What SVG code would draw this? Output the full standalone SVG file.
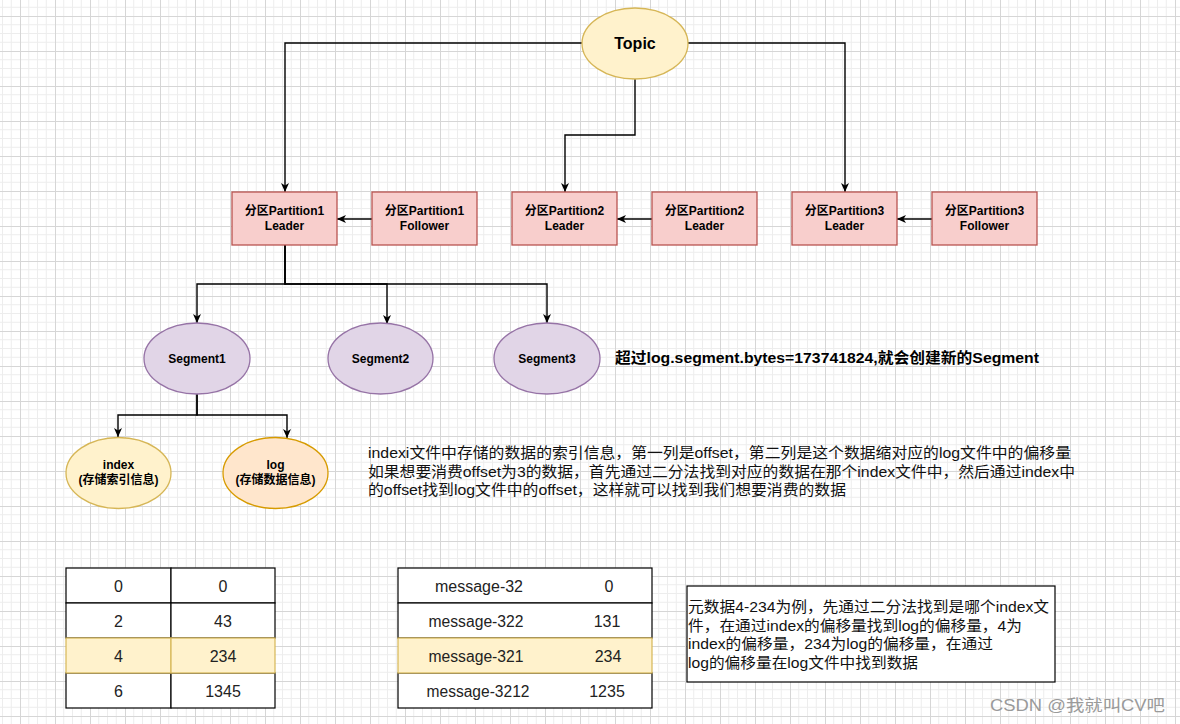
<svg xmlns="http://www.w3.org/2000/svg" width="1180" height="724" viewBox="0 0 1180 724">
<style>
text{font-family:"Liberation Sans","Noto Sans CJK SC",sans-serif;fill:#000}
.lbl{font-size:12px;font-weight:bold;text-anchor:middle}
.part{fill:#f8cecc;stroke:#b85450;stroke-width:1.3}
.seg{fill:#e1d5e7;stroke:#9673a6;stroke-width:1.3}
.yel{fill:#fff2cc;stroke:#d6b656;stroke-width:1.3}
.org{fill:#ffe6cc;stroke:#d79b00;stroke-width:1.3}
.edge{fill:none;stroke:#000;stroke-width:1.4;marker-end:url(#arr)}
.cell{fill:#fff;stroke:#000;stroke-width:1.2}
.hcell{fill:#fff2cc;stroke:#d6b656;stroke-width:1.2}
.num{font-size:16px;text-anchor:middle;fill:#222}
.para{font-size:15px;fill:#111}
</style>
<defs>
<pattern id="grid" patternUnits="userSpaceOnUse" x="20" y="16" width="35" height="35">
<path d="M8.75,0V35M17.5,0V35M26.25,0V35M0,8.75H35M0,17.5H35M0,26.25H35" stroke="#ededed" stroke-width="1" fill="none"/>
<path d="M0.5,0V35M0,0.5H35" stroke="#d6d6d6" stroke-width="1" fill="none"/>
</pattern>
<marker id="arr" markerUnits="userSpaceOnUse" markerWidth="10" markerHeight="10" refX="9" refY="4" orient="auto">
<path d="M0,0 L9,4 L0,8 L2.5,4 z" fill="#000"/>
</marker>
</defs>
<rect width="1180" height="724" fill="#fff"/>
<rect width="1180" height="724" fill="url(#grid)"/>

<g id="connectors">
<path class="edge" d="M582,43 H285 V192"/>
<path class="edge" d="M635,79 V135 H565 V192"/>
<path class="edge" d="M688,43 H845 V192"/>
<path class="edge" d="M372,219 H337"/>
<path class="edge" d="M652,219 H617"/>
<path class="edge" d="M932,219 H897"/>
<path class="edge" d="M285,245 V284 H197 V323"/>
<path class="edge" d="M285,245 V284 H387 V324"/>
<path class="edge" d="M285,245 V284 H547 V323"/>
<path class="edge" d="M197,394 V415 H118 V437"/>
<path class="edge" d="M197,394 V415 H287 V438"/>
</g>

<g id="topic">
<ellipse class="yel" cx="635" cy="43.5" rx="53" ry="35.5"/>
<text class="lbl" x="635" y="48.5" style="font-size:16px">Topic</text>
</g>

<g id="p1-leader">
<rect class="part" x="232" y="192" width="105" height="53"/>
<text class="lbl" x="284.5" y="215">分区Partition1</text>
<text class="lbl" x="284.5" y="229.5">Leader</text>
</g>
<g id="p1-follower">
<rect class="part" x="372" y="192" width="105" height="53"/>
<text class="lbl" x="424.5" y="215">分区Partition1</text>
<text class="lbl" x="424.5" y="229.5">Follower</text>
</g>
<g id="p2-leader">
<rect class="part" x="512" y="192" width="105" height="53"/>
<text class="lbl" x="564.5" y="215">分区Partition2</text>
<text class="lbl" x="564.5" y="229.5">Leader</text>
</g>
<g id="p2-leader-b">
<rect class="part" x="652" y="192" width="105" height="53"/>
<text class="lbl" x="704.5" y="215">分区Partition2</text>
<text class="lbl" x="704.5" y="229.5">Leader</text>
</g>
<g id="p3-leader">
<rect class="part" x="792" y="192" width="105" height="53"/>
<text class="lbl" x="844.5" y="215">分区Partition3</text>
<text class="lbl" x="844.5" y="229.5">Leader</text>
</g>
<g id="p3-follower">
<rect class="part" x="932" y="192" width="105" height="53"/>
<text class="lbl" x="984.5" y="215">分区Partition3</text>
<text class="lbl" x="984.5" y="229.5">Follower</text>
</g>

<g id="segment1">
<ellipse class="seg" cx="197" cy="358.5" rx="53" ry="35.5"/>
<text class="lbl" x="197" y="362.5">Segment1</text>
</g>
<g id="segment2">
<ellipse class="seg" cx="380.5" cy="358.5" rx="52.5" ry="35.5"/>
<text class="lbl" x="380.5" y="362.5">Segment2</text>
</g>
<g id="segment3">
<ellipse class="seg" cx="547" cy="358.5" rx="53" ry="35.5"/>
<text class="lbl" x="547" y="362.5">Segment3</text>
</g>

<g id="note-segment">
<text x="615" y="363" style="font-size:15px;font-weight:bold" textLength="424" lengthAdjust="spacingAndGlyphs">超过log.segment.bytes=173741824,就会创建新的Segment</text>
</g>

<g id="index">
<ellipse class="yel" cx="118.5" cy="473" rx="52.5" ry="35.5"/>
<text class="lbl" x="118.5" y="469">index</text>
<text class="lbl" x="118.5" y="484">(存储索引信息)</text>
</g>
<g id="log">
<ellipse class="org" cx="275.5" cy="473" rx="52.5" ry="35.5"/>
<text class="lbl" x="275.5" y="469">log</text>
<text class="lbl" x="275.5" y="484">(存储数据信息)</text>
</g>

<g id="note-index">
<text class="para" x="368" y="458" textLength="703" lengthAdjust="spacingAndGlyphs">indexi文件中存储的数据的索引信息，第一列是offset，第二列是这个数据缩对应的log文件中的偏移量</text>
<text class="para" x="368" y="476.5" textLength="707" lengthAdjust="spacingAndGlyphs">如果想要消费offset为3的数据，首先通过二分法找到对应的数据在那个index文件中，然后通过index中</text>
<text class="para" x="368" y="495" textLength="478" lengthAdjust="spacingAndGlyphs">的offset找到log文件中的offset，这样就可以找到我们想要消费的数据</text>
</g>

<g id="index-table">
<rect class="cell" x="66" y="568" width="105" height="35"/>
<rect class="cell" x="171" y="568" width="104" height="35"/>
<rect class="cell" x="66" y="603" width="105" height="35"/>
<rect class="cell" x="171" y="603" width="104" height="35"/>
<rect class="cell" x="66" y="673" width="105" height="35"/>
<rect class="cell" x="171" y="673" width="104" height="35"/>
<rect class="hcell" x="66" y="638" width="105" height="35"/>
<rect class="hcell" x="171" y="638" width="104" height="35"/>
<text class="num" x="118.5" y="591.5">0</text>
<text class="num" x="223" y="591.5">0</text>
<text class="num" x="118.5" y="626.5">2</text>
<text class="num" x="223" y="626.5">43</text>
<text class="num" x="118.5" y="661.5">4</text>
<text class="num" x="223" y="661.5">234</text>
<text class="num" x="118.5" y="696.5">6</text>
<text class="num" x="223" y="696.5">1345</text>
</g>

<g id="log-table">
<rect class="cell" x="398" y="568" width="254" height="35"/>
<rect class="cell" x="398" y="603" width="254" height="35"/>
<rect class="cell" x="398" y="673" width="254" height="35"/>
<rect class="hcell" x="398" y="638" width="254" height="35"/>
<text class="num" x="479" y="591.5" textLength="88" lengthAdjust="spacingAndGlyphs">message-32</text>
<text class="num" x="609" y="591.5">0</text>
<text class="num" x="476" y="626.5" textLength="95" lengthAdjust="spacingAndGlyphs">message-322</text>
<text class="num" x="607" y="626.5">131</text>
<text class="num" x="476" y="661.5" textLength="95" lengthAdjust="spacingAndGlyphs">message-321</text>
<text class="num" x="608" y="661.5">234</text>
<text class="num" x="478" y="696.5" textLength="103" lengthAdjust="spacingAndGlyphs">message-3212</text>
<text class="num" x="607" y="696.5">1235</text>
</g>

<g id="note-example">
<rect x="687" y="586" width="368" height="96" fill="#fff" stroke="#000" stroke-width="1.2"/>
<text class="para" x="688" y="612" textLength="361" lengthAdjust="spacingAndGlyphs">元数据4-234为例，先通过二分法找到是哪个index文</text>
<text class="para" x="688" y="630.5" textLength="334" lengthAdjust="spacingAndGlyphs">件，在通过index的偏移量找到log的偏移量，4为</text>
<text class="para" x="688" y="649" textLength="305" lengthAdjust="spacingAndGlyphs">index的偏移量，234为log的偏移量，在通过</text>
<text class="para" x="688" y="667.5" textLength="230" lengthAdjust="spacingAndGlyphs">log的偏移量在log文件中找到数据</text>
</g>

<g id="watermark">
<text x="990" y="711" style="font-size:16px;fill:#9a9a9a" textLength="175" lengthAdjust="spacingAndGlyphs">CSDN @我就叫CV吧</text>
</g>
</svg>
